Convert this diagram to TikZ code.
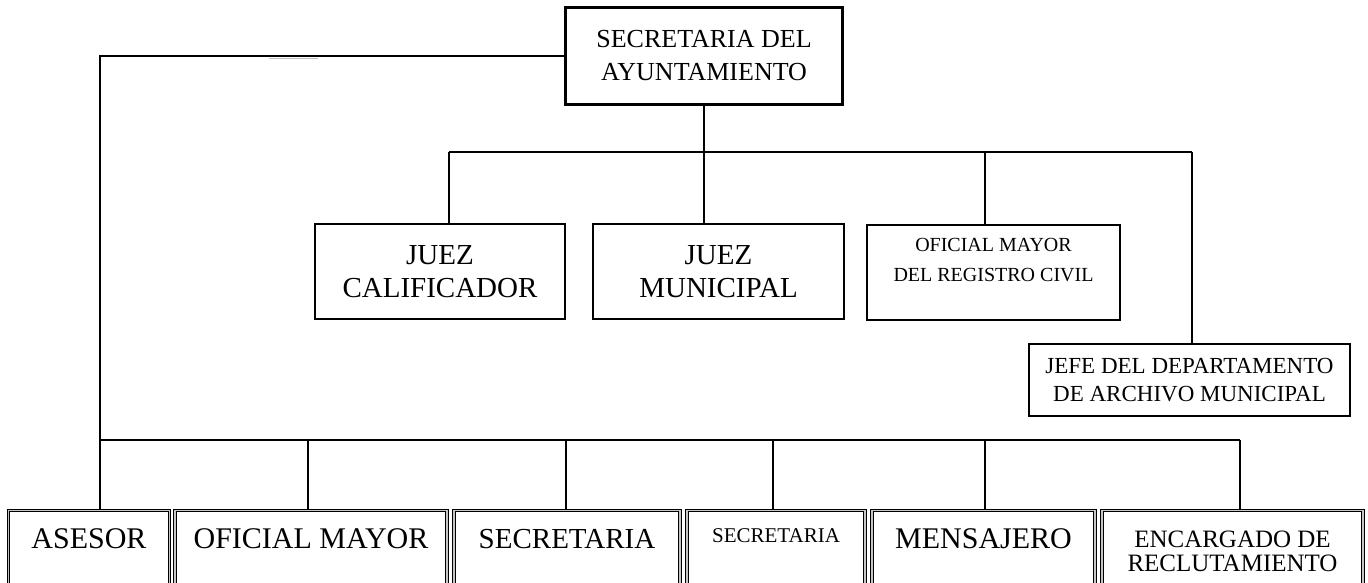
\documentclass[tikz,border=0pt]{standalone}
\usepackage{fontspec}
\setmainfont{Liberation Serif}
\usetikzlibrary{positioning, calc}
\newcommand\orgBig{\fontsize{29}{33}\selectfont}
\newcommand\orgLow{\fontsize{30}{33}\selectfont}
\newcommand\orgTop{\fontsize{26}{33}\selectfont}
\newcommand\orgMid{\fontsize{25}{23}\selectfont}
\newcommand\orgJefe{\fontsize{23}{28}\selectfont}
\newcommand\orgReg{\fontsize{20}{30}\selectfont}
\newcommand\orgSmall{\fontsize{21}{28}\selectfont}

\begin{document}
\begin{tikzpicture}[x=1pt, y=-1pt,
    unit/.style={draw, line width=2.2pt, inner sep=0pt, align=center},
    staff/.style={draw, line width=1.1pt, double=gray!45, double distance=1.2pt, anchor=north,
      inner sep=0pt, text depth=100pt, font=\orgLow},
    link/.style={line width=2.2pt}]
  \clip (0,0) rectangle (1368,582);
  \fill[white] (0,0) rectangle (1368,582);

  \node[unit, minimum width=277, minimum height=97, font=\orgTop] (sda) at (704,56) {SECRETARIA DEL\\AYUNTAMIENTO};

  \node[unit, minimum width=250, minimum height=95, font=\orgBig] (jcal) at (440,271.5) {JUEZ\\CALIFICADOR};
  \node[unit, minimum width=251, minimum height=95, font=\orgBig] (jmun) at (718.5,271.5) {JUEZ\\MUNICIPAL};
  \node[unit, anchor=north, minimum width=253, text height=26, text depth=69, font=\orgReg] (oreg) at (993.5,224)
    {\begin{tabular}[t]{@{}c@{}}OFICIAL MAYOR\\DEL REGISTRO CIVIL\end{tabular}};
  \node[unit, minimum width=321, minimum height=72, font=\orgJefe] (jarch) at (1189.5,380) {JEFE DEL DEPARTAMENTO\\DE ARCHIVO MUNICIPAL};

  \node[staff, minimum width=161, text height=38] (ase) at (89,510) {ASESOR};
  \node[staff, minimum width=272, text height=38] (ofm) at (311,510) {OFICIAL MAYOR};
  \node[staff, minimum width=226, text height=38, font=\orgBig] (sec1) at (567,510) {SECRETARIA};
  \node[staff, minimum width=178, text height=32, font=\orgSmall] (sec2) at (776,510) {SECRETARIA};
  \node[staff, minimum width=223, text height=38] (men) at (983.5,510) {MENSAJERO};
  \node[staff, minimum width=261, text height=37, font=\orgMid] (enc) at (1232.5,510)
    {\begin{tabular}[t]{@{}c@{}}ENCARGADO DE\\RECLUTAMIENTO\end{tabular}};

  \coordinate (hubL) at (449,152);
  \coordinate (hubO) at (985,152);
  \coordinate (hubR) at (1192,152);
  \coordinate (busL) at (100,440);
  \coordinate (busR) at (1240,440);

  \draw[link] (sda.south) -- (sda.south |- hubL);
  \draw[link] (hubL) -- (hubR);
  \draw[link] (hubL) -- (hubL |- jcal.north);
  \draw[link] (sda.south |- hubL) -- (sda.south |- jmun.north);
  \draw[link] (hubO) -- (hubO |- oreg.north);
  \draw[link] (hubR) -- (hubR |- jarch.north);

  \draw[link] (sda.west) -| (busL) -- (busR);
  \draw[gray!50, line width=1.5pt] (269,58.5) -- (318,58.5);
  \foreach \x/\n in {100/ase, 308/ofm, 566/sec1, 773/sec2, 985/men, 1240/enc}
    \draw[link] (\x,440) -- (\x,0 |- \n.north);
\end{tikzpicture}
\end{document}
